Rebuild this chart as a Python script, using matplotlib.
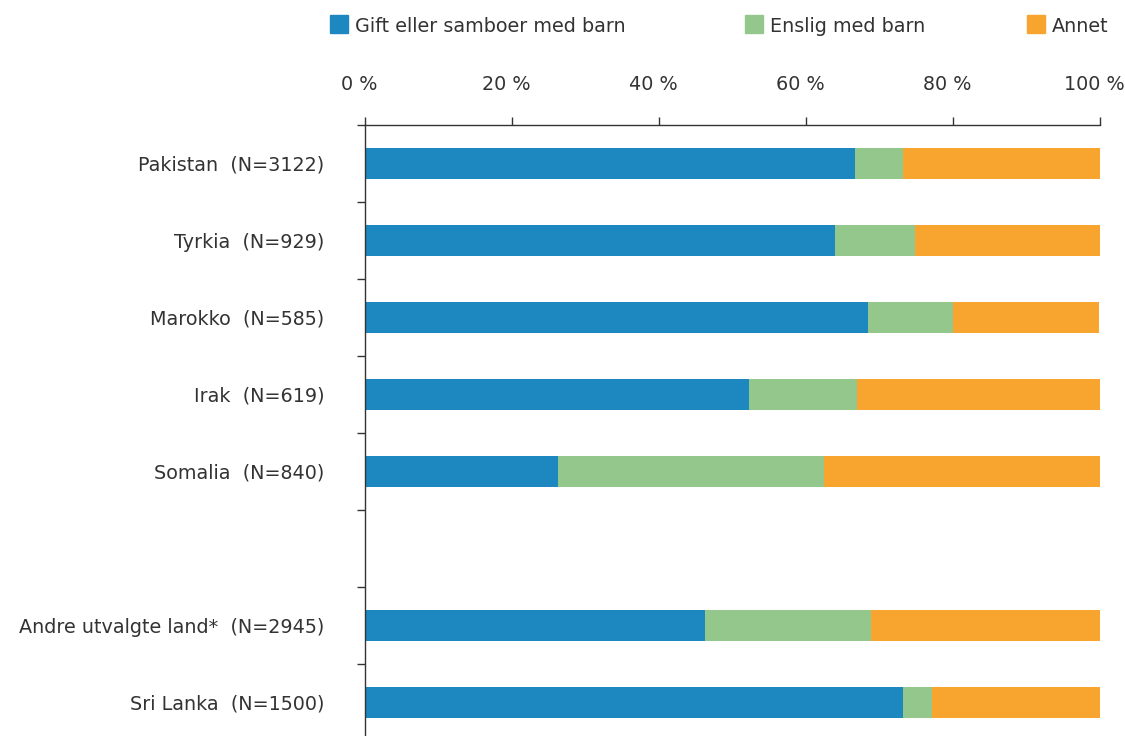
import matplotlib.pyplot as plt
from matplotlib.patches import Rectangle
from matplotlib.transforms import ScaledTranslation

countries = ["Pakistan  (N=3122)", "Tyrkia  (N=929)", "Marokko  (N=585)",
             "Irak  (N=619)", "Somalia  (N=840)",
             "Andre utvalgte land*  (N=2945)", "Sri Lanka  (N=1500)"]
gift = [66.7, 63.9, 68.4, 52.2, 26.3, 46.3, 73.2]
enslig = [6.5, 10.9, 11.6, 14.7, 36.1, 22.5, 3.9]
annet = [26.8, 25.2, 19.9, 33.1, 37.6, 31.2, 22.9]

series_names = ["Gift eller samboer med barn", "Enslig med barn", "Annet"]
colors = ["#1d88c0", "#94c78b", "#f8a52f"]
text_color = "#333333"
fs = 13.8

plt.rcParams['font.family'] = ['DejaVu Sans']

fig = plt.figure(figsize=(11.25, 7.36), dpi=100)
ax = fig.add_axes([365 / 1125, -5 / 736, 735 / 1125, 616 / 736])

# blank slot between the first five countries and the last two
pos = [i + 0.5 if i < 5 else i + 1.5 for i in range(len(countries))]

left = [0] * len(countries)
for vals, col in zip([gift, enslig, annet], colors):
    ax.barh(pos, vals, left=left, height=0.4, color=col, linewidth=0)
    left = [l + v for l, v in zip(left, vals)]

ax.set_xlim(0, 100)
ax.set_ylim(8, 0)

ax.xaxis.tick_top()
ax.set_xticks([0, 20, 40, 60, 80, 100])
ax.set_xticklabels(["0 %", "20 %", "40 %", "60 %", "80 %", "100 %"])
ax.tick_params(axis='x', length=6, width=1, color=text_color, pad=16,
               labelcolor=text_color, labelsize=fs)
# nudge the percent labels a little to the left so "100 %" stays inside
shift = ScaledTranslation(-6 / 100, 0, fig.dpi_scale_trans)
for lab in ax.get_xticklabels():
    lab.set_transform(lab.get_transform() + shift)

ax.set_yticks(pos)
ax.set_yticklabels(countries)
ax.set_yticks(range(9), minor=True)
ax.tick_params(axis='y', which='major', length=0, pad=29,
               labelcolor=text_color, labelsize=fs)
ax.tick_params(axis='y', which='minor', length=6, width=1, color=text_color)

for side in ['right', 'bottom']:
    ax.spines[side].set_visible(False)
for side in ['left', 'top']:
    ax.spines[side].set_color(text_color)
    ax.spines[side].set_linewidth(1)

# legend row along the top
legend_x = [330, 745, 1027]
for x, name, col in zip(legend_x, series_names, colors):
    fig.patches.append(Rectangle((x / 1125, 1 - 33 / 736), 18 / 1125, 18 / 736,
                                 transform=fig.transFigure, color=col))
    fig.text((x + 25) / 1125, 1 - 26 / 736, name, color=text_color,
             fontsize=fs, va='center', ha='left')

fig.savefig("out.png", dpi=100)
